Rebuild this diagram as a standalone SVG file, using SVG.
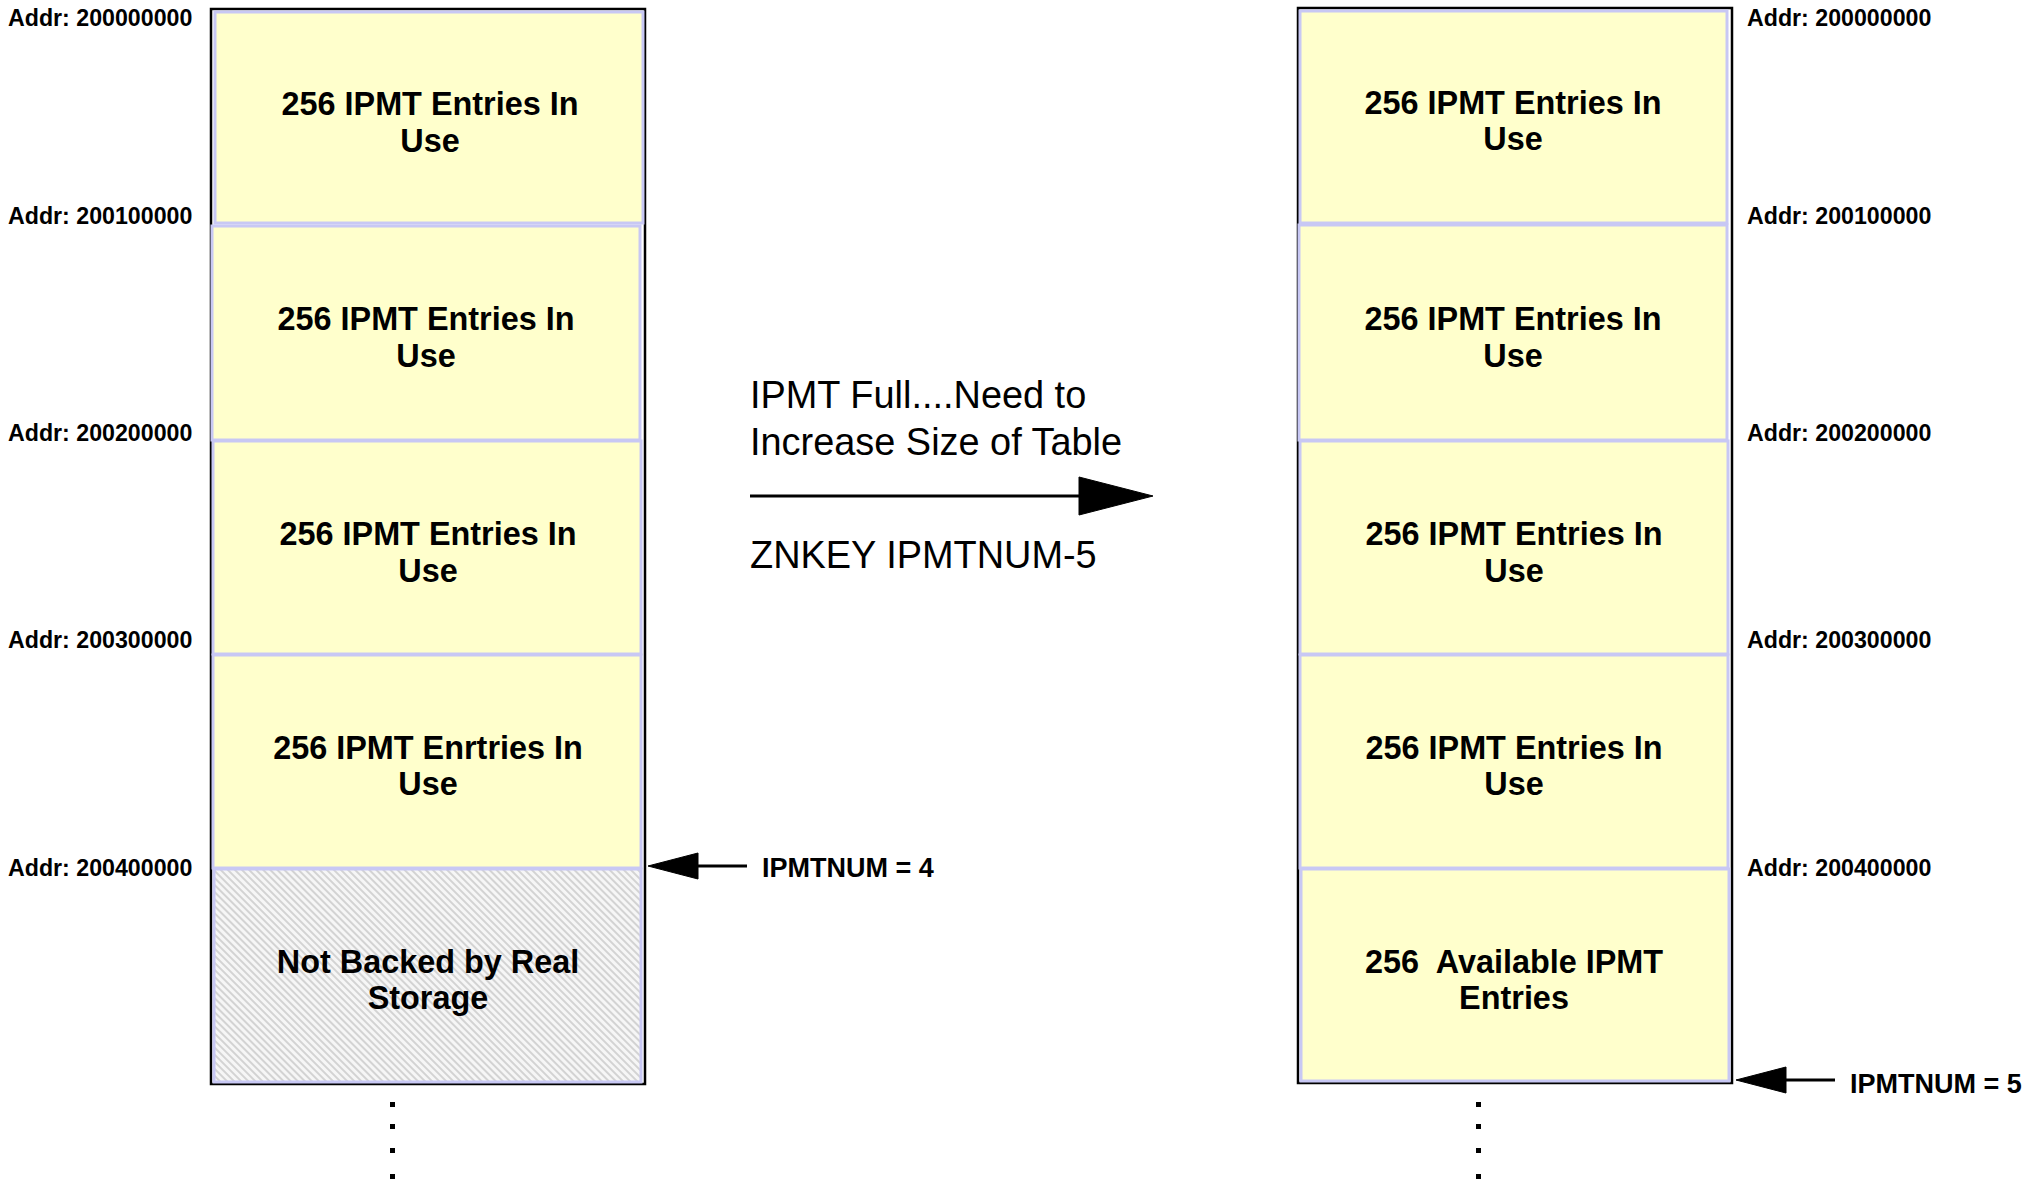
<svg xmlns="http://www.w3.org/2000/svg" width="2043" height="1182" viewBox="0 0 2043 1182">
<style>
.outer{fill:none;stroke:#000;stroke-width:2.5}
.blk{fill:#ffffcc;stroke:#c8c8f4;stroke-width:3}
.hatch{fill:url(#hatch);stroke:#c8c8f4;stroke-width:3}
.bt{font-family:"Liberation Sans",Arial,sans-serif;font-weight:bold;font-size:32.4px;fill:#000;text-anchor:middle}
.addr{font-family:"Liberation Sans",Arial,sans-serif;font-weight:bold;font-size:23.2px;fill:#000}
.num{font-family:"Liberation Sans",Arial,sans-serif;font-weight:bold;font-size:27px;fill:#000}
.mid{font-family:"Liberation Sans",Arial,sans-serif;font-size:37.9px;fill:#000}
.ln{stroke:#000;stroke-width:3;fill:none}
.head{fill:#000;stroke:#000;stroke-width:1;stroke-linejoin:round}
.dot{fill:#000}
</style>
<defs>
<pattern id="hatch" patternUnits="userSpaceOnUse" width="5" height="5" patternTransform="rotate(-45)">
<rect width="5" height="5" fill="#f6f6f6"/>
<line x1="1" y1="0" x2="1" y2="5" stroke="#c4c4c4" stroke-width="1.4"/>
</pattern>
</defs>
<rect width="2043" height="1182" fill="#fff"/>

<g id="left-table">
<rect class="outer" x="211" y="9" width="434" height="1075"/>
<g id="l-b1"><rect class="blk" x="215" y="12" width="428" height="211"/>
<text class="bt" x="430" y="115">256 IPMT Entries In</text><text class="bt" x="430" y="152">Use</text></g>
<g id="l-b2"><rect class="blk" x="212" y="226" width="428" height="214"/>
<text class="bt" x="426" y="330">256 IPMT Entries In</text><text class="bt" x="426" y="367">Use</text></g>
<g id="l-b3"><rect class="blk" x="213" y="441" width="428" height="213"/>
<text class="bt" x="428" y="545">256 IPMT Entries In</text><text class="bt" x="428" y="582">Use</text></g>
<g id="l-b4"><rect class="blk" x="213" y="655" width="428" height="213"/>
<text class="bt" x="428" y="759">256 IPMT Enrtries In</text><text class="bt" x="428" y="795">Use</text></g>
<g id="l-b5"><rect class="hatch" x="214" y="869" width="427" height="213"/>
<text class="bt" x="428" y="973">Not Backed by Real</text><text class="bt" x="428" y="1009">Storage</text></g>
</g>

<g id="left-addr">
<text class="addr" x="8" y="26">Addr: 200000000</text>
<text class="addr" x="8" y="224">Addr: 200100000</text>
<text class="addr" x="8" y="441">Addr: 200200000</text>
<text class="addr" x="8" y="648">Addr: 200300000</text>
<text class="addr" x="8" y="876">Addr: 200400000</text>
</g>

<g id="right-table">
<rect class="outer" x="1298" y="8" width="434" height="1075"/>
<g id="r-b1"><rect class="blk" x="1300" y="11" width="427" height="212"/>
<text class="bt" x="1513" y="114">256 IPMT Entries In</text><text class="bt" x="1513" y="150">Use</text></g>
<g id="r-b2"><rect class="blk" x="1299" y="225" width="428" height="215"/>
<text class="bt" x="1513" y="330">256 IPMT Entries In</text><text class="bt" x="1513" y="367">Use</text></g>
<g id="r-b3"><rect class="blk" x="1300" y="441" width="428" height="213"/>
<text class="bt" x="1514" y="545">256 IPMT Entries In</text><text class="bt" x="1514" y="582">Use</text></g>
<g id="r-b4"><rect class="blk" x="1300" y="655" width="428" height="213"/>
<text class="bt" x="1514" y="759">256 IPMT Entries In</text><text class="bt" x="1514" y="795">Use</text></g>
<g id="r-b5"><rect class="blk" x="1301" y="869" width="428" height="212"/>
<text class="bt" x="1514" y="973" xml:space="preserve">256  Available IPMT</text><text class="bt" x="1514" y="1009">Entries</text></g>
</g>

<g id="right-addr">
<text class="addr" x="1747" y="26">Addr: 200000000</text>
<text class="addr" x="1747" y="224">Addr: 200100000</text>
<text class="addr" x="1747" y="441">Addr: 200200000</text>
<text class="addr" x="1747" y="648">Addr: 200300000</text>
<text class="addr" x="1747" y="876">Addr: 200400000</text>
</g>

<g id="transition-label">
<text class="mid" x="750" y="408">IPMT Full....Need to</text>
<text class="mid" x="750" y="455">Increase Size of Table</text>
<text class="mid" x="750" y="568">ZNKEY IPMTNUM-5</text>
</g>

<g id="pointer-labels">
<text class="num" x="762" y="877">IPMTNUM = 4</text>
<text class="num" x="1850" y="1093">IPMTNUM = 5</text>
</g>

<g id="connectors">
<line class="ln" x1="750" y1="496" x2="1085" y2="496"/>
<polygon class="head" points="1079,477 1153,496 1079,515"/>
<line class="ln" x1="692" y1="866" x2="747" y2="866"/>
<polygon class="head" points="698,853 648,866 698,879"/>
<line class="ln" x1="1780" y1="1080" x2="1835" y2="1080"/>
<polygon class="head" points="1786,1067 1736,1080 1786,1093"/>
</g>

<g id="continuation-dots">
<rect class="dot" x="390" y="1102" width="5" height="5"/>
<rect class="dot" x="390" y="1124" width="5" height="5"/>
<rect class="dot" x="390" y="1148" width="5" height="5"/>
<rect class="dot" x="390" y="1174" width="5" height="5"/>
<rect class="dot" x="1476" y="1102" width="5" height="5"/>
<rect class="dot" x="1476" y="1124" width="5" height="5"/>
<rect class="dot" x="1476" y="1148" width="5" height="5"/>
<rect class="dot" x="1476" y="1174" width="5" height="5"/>
</g>
</svg>
